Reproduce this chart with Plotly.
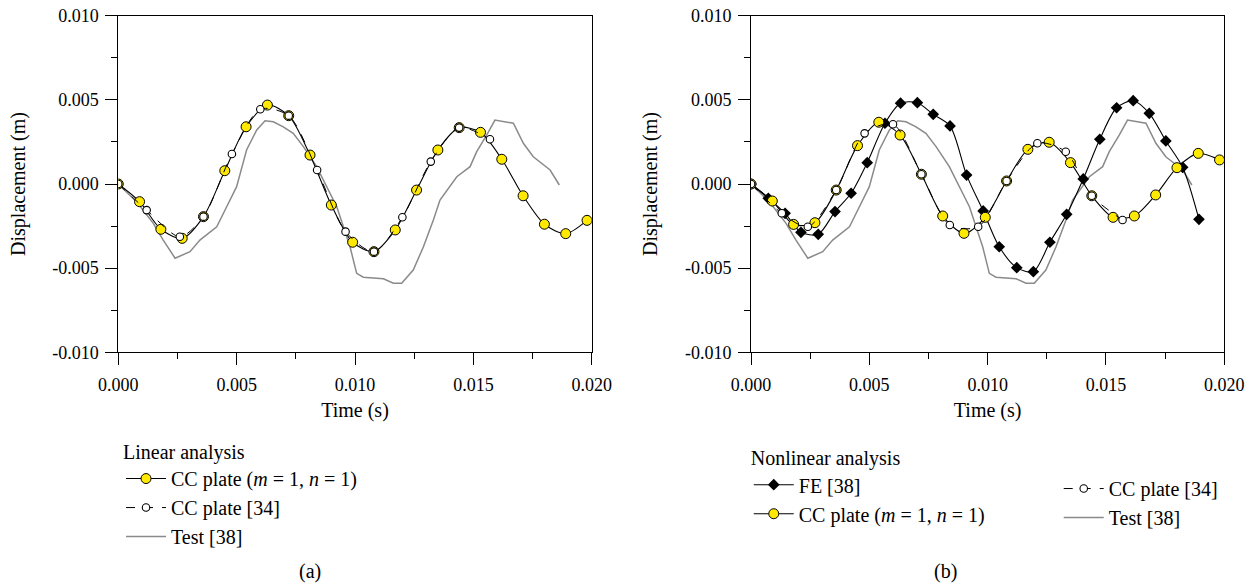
import plotly.graph_objects as go

# ---------------- data (time in s, displacement in m) ----------------
cc_t = [0, 0.0009, 0.0018, 0.0027, 0.0036, 0.0045, 0.0054, 0.0063, 0.0072, 0.0081, 0.0090,
        0.0099, 0.0108, 0.0117, 0.0126, 0.0135, 0.0144, 0.0153, 0.0162, 0.0171, 0.0180,
        0.0189, 0.0198]
lin_cc_v = [0, -0.00105, -0.00269, -0.00323, -0.00194, 0.00079, 0.00340, 0.00469, 0.00406,
            0.00172, -0.00125, -0.00346, -0.00402, -0.00273, -0.00036, 0.00202, 0.00335,
            0.00307, 0.00147, -0.00070, -0.00239, -0.00295, -0.00216]

lin_ref_t = [0, 0.0012, 0.0026, 0.0036, 0.0048, 0.0060, 0.0072, 0.0084, 0.0096, 0.0108,
             0.0120, 0.0132, 0.0144, 0.0157]
lin_ref_v = [0, -0.00155, -0.00313, -0.00194, 0.00178, 0.00444, 0.00406, 0.00083, -0.00283,
             -0.00402, -0.00198, 0.00133, 0.00335, 0.00266]

test_t = [0, 0.0008, 0.00148, 0.0019, 0.0024, 0.00303, 0.00345, 0.00416, 0.00458, 0.0050,
          0.00542, 0.00585, 0.0062, 0.00655, 0.00697, 0.00739, 0.00782, 0.00838, 0.00923,
          0.00979, 0.01007, 0.01035, 0.0112, 0.01162, 0.01197, 0.01246, 0.01289, 0.01331,
          0.01359, 0.0143, 0.01486, 0.01514, 0.01556, 0.01591, 0.01669, 0.01711, 0.01753,
          0.01824, 0.01863]
test_v = [0, -0.0011, -0.00234, -0.00333, -0.00441, -0.00402, -0.00333, -0.00254, -0.00135,
          -0.00016, 0.00202, 0.00321, 0.00376, 0.00370, 0.00340, 0.00301, 0.00222, 0.00103,
          -0.00135, -0.00373, -0.00531, -0.00554, -0.00563, -0.00590, -0.00590, -0.00511,
          -0.00373, -0.00214, -0.00095, 0.00043, 0.00103, 0.00192, 0.00291, 0.00380, 0.00361,
          0.00242, 0.00162, 0.00083, -0.00006]

nl_cc_v = [0, -0.00101, -0.00240, -0.00230, -0.00036, 0.00228, 0.00367, 0.00291, 0.00058,
           -0.00190, -0.00293, -0.00198, 0.00018, 0.00206, 0.00248, 0.00127, -0.00070,
           -0.00198, -0.00190, -0.00065, 0.00097, 0.00182, 0.00143]

nl_ref_t = [0, 0.0013, 0.0024, 0.0036, 0.0048, 0.0060, 0.0072, 0.0084, 0.0096, 0.0108,
            0.0121, 0.0133, 0.0144, 0.0157]
nl_ref_v = [0, -0.00174, -0.00254, -0.00036, 0.00301, 0.00355, 0.00058, -0.00244, -0.00254,
            0.00018, 0.00242, 0.00192, -0.00070, -0.00214]

fe_t = [0, 0.00073, 0.00144, 0.00211, 0.00284, 0.00355, 0.00423, 0.00491, 0.00566, 0.00632,
        0.00703, 0.00770, 0.00841, 0.00911, 0.00981, 0.01049, 0.01123, 0.01193, 0.01263,
        0.01334, 0.01404, 0.01474, 0.01545, 0.01615, 0.01683, 0.01753, 0.01824, 0.01893]
fe_v = [0, -0.00085, -0.00174, -0.00287, -0.00299, -0.00164, -0.00055, 0.00127, 0.00361,
        0.00480, 0.00483, 0.00414, 0.00345, 0.00053, -0.00160, -0.00373, -0.00497, -0.00521,
        -0.00346, -0.00180, 0.00030, 0.00266, 0.00453, 0.00495, 0.00420, 0.00256, 0.00099,
        -0.00210]

x_ticks = [0, 0.005, 0.010, 0.015, 0.020]
x_labels = ["0.000", "0.005", "0.010", "0.015", "0.020"]
y_ticks = [-0.010, -0.005, 0.0, 0.005, 0.010]
y_labels = ["-0.010", "-0.005", "0.000", "0.005", "0.010"]

# ---------------- styling ----------------
FONT = "Liberation Serif"
FS = 20       # titles / legend
FT = 18       # tick labels
YEL = "#FFE900"
GRAY = "#8a8a8a"

fig = go.Figure()

def add_set(xa, ya, cc_v, ref_t, ref_v, leg_cc, leg_ref, leg_test, fe=None):
    fig.add_trace(go.Scatter(x=test_t, y=test_v, mode="lines", name="Test [38]",
                             line=dict(color=GRAY, width=1.5), xaxis=xa, yaxis=ya,
                             legend=leg_test, legendrank=4))
    if fe is not None:
        fig.add_trace(go.Scatter(x=fe[0], y=fe[1], mode="lines+markers", name="FE [38]",
                                 line=dict(color="black", width=1.1, shape="spline", smoothing=0.8),
                                 marker=dict(symbol="diamond", size=9, color="black"),
                                 xaxis=xa, yaxis=ya, legend=fe[2], legendrank=1))
    fig.add_trace(go.Scatter(x=cc_t, y=cc_v, mode="lines+markers",
                             name="CC plate (<i>m</i> = 1, <i>n</i> = 1)",
                             line=dict(color="black", width=1.1, shape="spline", smoothing=0.8),
                             marker=dict(symbol="circle", size=10, color=YEL,
                                         line=dict(color="black", width=1)),
                             xaxis=xa, yaxis=ya, legend=leg_cc, legendrank=2))
    fig.add_trace(go.Scatter(x=ref_t, y=ref_v, mode="lines+markers", name="CC plate [34]",
                             line=dict(color="black", width=1, dash="dash", shape="spline", smoothing=0.8),
                             marker=dict(symbol="circle", size=7.5, color="white",
                                         line=dict(color="black", width=1.1)),
                             xaxis=xa, yaxis=ya, legend=leg_ref, legendrank=3))

add_set("x", "y", lin_cc_v, lin_ref_t, lin_ref_v, "legend", "legend", "legend")
add_set("x2", "y2", nl_cc_v, nl_ref_t, nl_ref_v, "legend2", "legend3", "legend3",
        fe=(fe_t, fe_v, "legend2"))

axis_common = dict(showline=True, linecolor="black", linewidth=1, mirror=True,
                   ticks="outside", ticklen=12, tickwidth=1, tickcolor="black",
                   showgrid=False, zeroline=False, automargin=False,
                   tickfont=dict(family=FONT, size=FT, color="black"),
                   minor=dict(ticks="outside", ticklen=6, dtick=0.0025, tickcolor="black",
                              showgrid=False))

xa = dict(axis_common, range=[0, 0.020], tickvals=x_ticks, ticktext=x_labels,
          ticklabelstandoff=4,
          title=dict(text="Time (s)", font=dict(family=FONT, size=FS, color="black"), standoff=9))
ya = dict(axis_common, range=[-0.010, 0.010], tickvals=y_ticks, ticktext=y_labels,
          ticklabelstandoff=3,
          title=dict(text="Displacement (m)", font=dict(family=FONT, size=FS, color="black"), standoff=21))

leg_common = dict(xanchor="left", yanchor="top", bgcolor="rgba(0,0,0,0)", tracegroupgap=0,
                  itemwidth=40, font=dict(family=FONT, size=FS, color="black"))

fig.update_layout(
    template="none",
    width=1258, height=586,
    margin=dict(l=0, r=0, t=0, b=0, pad=0),
    paper_bgcolor="white", plot_bgcolor="white",
    font=dict(family=FONT, size=FS, color="black"),
    xaxis=dict(xa, domain=[0.0940, 0.4704], anchor="y"),
    yaxis=dict(ya, domain=[0.3988, 0.9732], anchor="x"),
    xaxis2=dict(xa, domain=[0.5970, 0.9732], anchor="y2"),
    yaxis2=dict(ya, domain=[0.3988, 0.9732], anchor="x2"),
    legend=dict(leg_common, title=dict(text="Linear analysis", font=dict(family=FONT, size=FS)),
                x=0.0962, y=0.261),
    legend2=dict(leg_common, title=dict(text="Nonlinear analysis", font=dict(family=FONT, size=FS)),
                 x=0.5952, y=0.2505),
    legend3=dict(leg_common, x=0.8416, y=0.1996),
    annotations=[
        dict(text="(a)", x=0.2462, y=1 - 571 / 586, xref="paper", yref="paper",
             xanchor="center", yanchor="middle",
             showarrow=False, font=dict(family=FONT, size=FS, color="black")),
        dict(text="(b)", x=0.7512, y=1 - 571 / 586, xref="paper", yref="paper",
             xanchor="center", yanchor="middle",
             showarrow=False, font=dict(family=FONT, size=FS, color="black")),
    ],
)

fig.write_html("out.html")
